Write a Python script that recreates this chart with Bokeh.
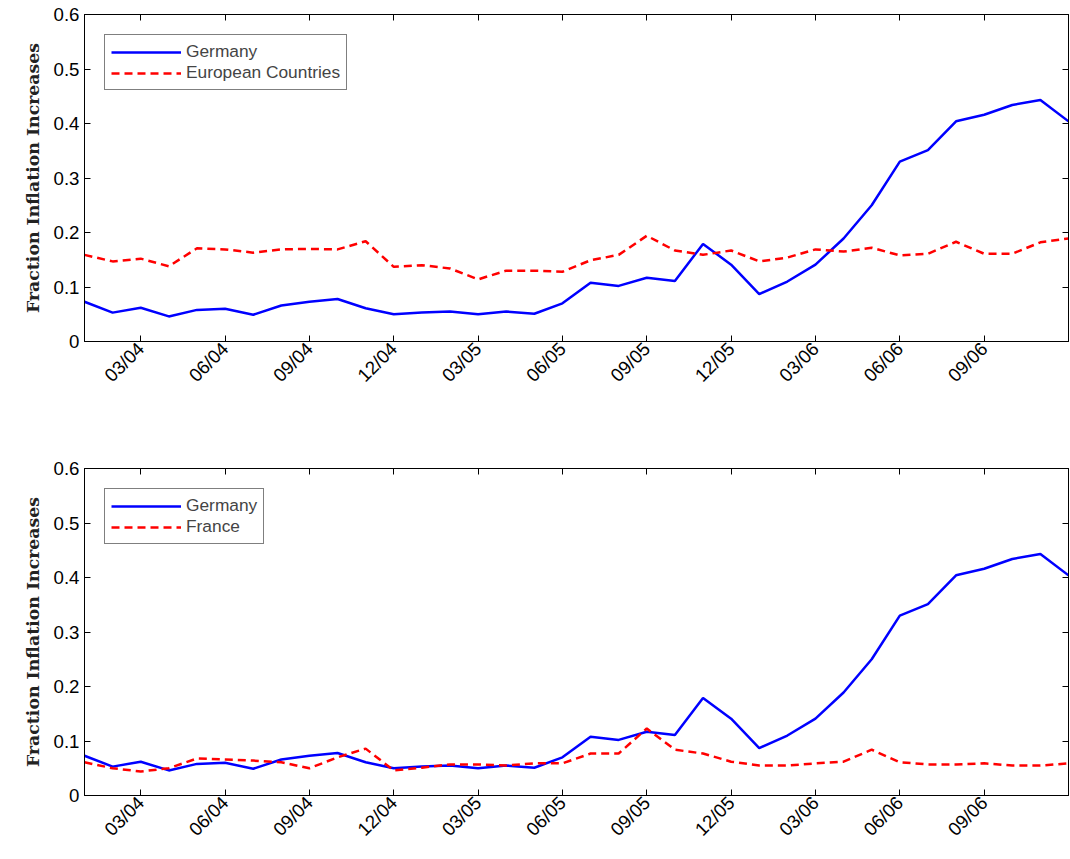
from bokeh.plotting import figure
from bokeh.layouts import column
from bokeh.models import FixedTicker, LinearAxis, Legend, LegendItem
from bokeh.embed import file_html
from bokeh.resources import INLINE
import math

months = list(range(36))
tick_pos = [2, 5, 8, 11, 14, 17, 20, 23, 26, 29, 32]
tick_labels = ['03/04', '06/04', '09/04', '12/04', '03/05', '06/05', '09/05', '12/05', '03/06', '06/06', '09/06']
y_ticks = [0, 0.1, 0.2, 0.3, 0.4, 0.5, 0.6]

germany = [0.073, 0.053, 0.062, 0.046, 0.058, 0.060, 0.049, 0.066, 0.073, 0.078, 0.061, 0.050,
           0.053, 0.055, 0.050, 0.055, 0.051, 0.070, 0.108, 0.102, 0.117, 0.111, 0.179, 0.141,
           0.087, 0.110, 0.141, 0.189, 0.250, 0.330, 0.351, 0.404, 0.416, 0.434, 0.443, 0.404]
european = [0.159, 0.147, 0.152, 0.138, 0.171, 0.169, 0.163, 0.169, 0.170, 0.169, 0.184, 0.137,
            0.140, 0.134, 0.114, 0.130, 0.130, 0.128, 0.149, 0.159, 0.194, 0.167, 0.159, 0.167,
            0.147, 0.154, 0.169, 0.165, 0.172, 0.158, 0.161, 0.183, 0.161, 0.161, 0.182, 0.189]
france = [0.061, 0.050, 0.044, 0.050, 0.068, 0.066, 0.064, 0.061, 0.050, 0.070, 0.086, 0.046,
          0.051, 0.057, 0.057, 0.055, 0.059, 0.059, 0.077, 0.077, 0.123, 0.084, 0.077, 0.062,
          0.055, 0.055, 0.059, 0.062, 0.084, 0.061, 0.057, 0.057, 0.059, 0.055, 0.055, 0.059]


def style_axis(ax, show_labels):
    ax.axis_line_color = 'black'
    ax.major_tick_in = 6
    ax.major_tick_out = 0
    ax.minor_tick_line_color = None
    ax.major_tick_line_color = 'black'
    ax.major_label_text_font = 'Liberation Sans'
    ax.major_label_text_font_size = '14pt'
    ax.major_label_text_color = 'black'
    if not show_labels:
        ax.major_label_text_alpha = 0
        ax.major_label_text_font_size = '1pt'
        ax.major_label_standoff = 0


def make_panel(other, other_name, top_border, bottom_border):
    p = figure(frame_width=984, frame_height=327, x_range=(0, 35), y_range=(0, 0.6),
               output_backend="svg", toolbar_location=None,
               min_border_left=84, min_border_right=2,
               min_border_top=top_border, min_border_bottom=bottom_border)
    p.xgrid.visible = False
    p.ygrid.visible = False
    p.outline_line_color = 'black'
    p.xaxis.ticker = FixedTicker(ticks=tick_pos)
    p.xaxis.major_label_overrides = {t: l for t, l in zip(tick_pos, tick_labels)}
    p.xaxis.major_label_orientation = math.pi / 4
    p.xaxis.major_label_standoff = 4
    p.yaxis.ticker = FixedTicker(ticks=y_ticks)
    p.yaxis.major_label_overrides = {0: '0'}
    style_axis(p.xaxis[0], True)
    style_axis(p.yaxis[0], True)
    p.yaxis.axis_label = 'Fraction Inflation Increases'
    p.yaxis.axis_label_text_font = 'DejaVu Serif'
    p.yaxis.axis_label_text_font_style = 'bold'
    p.yaxis.axis_label_text_font_size = '13pt'
    p.yaxis.axis_label_text_color = '#222222'
    p.yaxis.axis_label_standoff = 8
    ra = LinearAxis(ticker=FixedTicker(ticks=y_ticks))
    style_axis(ra, False)
    p.add_layout(ra, 'right')
    ta = LinearAxis(ticker=FixedTicker(ticks=tick_pos))
    style_axis(ta, False)
    p.add_layout(ta, 'above')

    g = p.line(months, germany, line_color='#0000ff', line_width=2.5)
    o = p.line(months, other, line_color='#ff0000', line_width=2.5, line_dash='8 5')
    legend = Legend(items=[LegendItem(label='Germany', renderers=[g]),
                           LegendItem(label=other_name, renderers=[o])],
                    location='top_left')
    legend.border_line_color = 'black'
    legend.label_text_font = 'Liberation Sans'
    legend.label_text_font_size = '13pt'
    legend.glyph_width = 70
    legend.spacing = 0
    legend.padding = 6
    legend.margin = 20
    legend.label_height = 18
    p.add_layout(legend, 'center')
    return p


top = make_panel(european, 'European Countries', 14, 115)
bottom = make_panel(france, 'France', 12, 50)
page = column(top, bottom, spacing=0)
open("out.html", "w").write(file_html(page, INLINE))
